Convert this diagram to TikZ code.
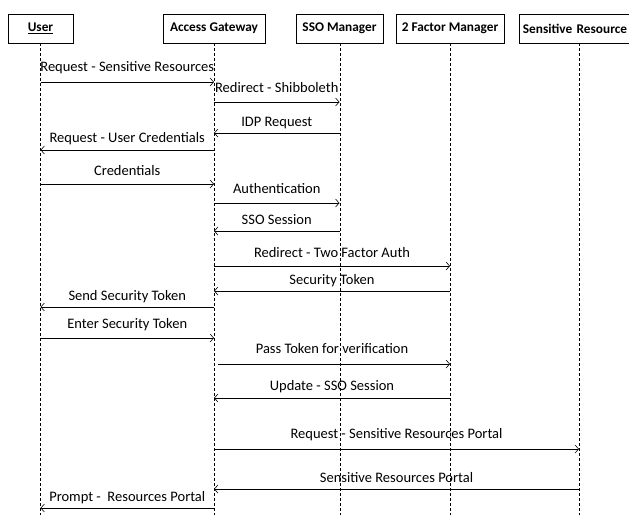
\documentclass[tikz,border=0pt]{standalone}
\usepackage{fontspec}
\setmainfont{Carlito}
\usetikzlibrary{arrows.meta,calc}

% one message: #1 sender, #2 receiver, #3 arrow height, #4 label height, #5 text
\newcommand\seqmsg[5]{%
  \draw[msg] (#1 |- 0,#3) -- (#2 |- 0,#3);
  \node[lbl] at ($(#1 |- 0,#4)!0.5!(#2 |- 0,#4)$) {#5};}

\begin{document}
\begin{tikzpicture}[x=1pt,y=-1pt,
  actor/.style={draw, line width=0.8pt, minimum height=29pt, inner sep=0pt,
    font=\bfseries\fontsize{13.3}{15}\selectfont},
  lifeline/.style={line width=0.6pt, dash pattern=on 3pt off 2pt},
  msg/.style={line width=0.6pt, -{Straight Barb[length=3.5pt,width=8pt]}},
  lbl/.style={inner sep=0pt, font=\fontsize{14.5}{16}\selectfont}]
  \useasboundingbox (0,0) rectangle (629,515);
  \clip (0,0) rectangle (629,515);

  % participants
  \node[actor, minimum width=65pt]  (user) at (40.5,28.5) {\underline{User}};
  \node[actor, minimum width=102pt] (ag)   at (214,28.5)  {Access Gateway};
  \node[actor, minimum width=87pt]  (sso)  at (339.5,28.5) {SSO Manager};
  \node[actor, minimum width=108pt] (tfm)  at (450,28.5)  {2 Factor Manager};
  \node[actor, anchor=west, minimum width=125pt, text width=125pt, align=left]
    (sr) at (519,28.5) {\hspace*{3.5pt}Sensitive Resource};
  \coordinate (srx) at (579,28.5);

  % lifelines
  \foreach \p/\x in {user/40.5, ag/214, sso/340, tfm/450, sr/579}{
    \coordinate (\p-end) at (\x,515);
    \draw[lifeline] (\p-end |- \p.south) -- (\p-end);
  }

  % messages
  \seqmsg{user}{ag}{82}{68}{Request - Sensitive Resources}
  \seqmsg{ag}{sso}{102}{88}{Redirect - Shibboleth}
  \seqmsg{sso}{ag}{133}{123}{IDP Request}
  \seqmsg{ag}{user}{150}{139}{Request - User Credentials}
  \seqmsg{user}{ag}{184}{171}{Credentials}
  \seqmsg{ag}{sso}{203}{189}{Authentication}
  \seqmsg{sso}{ag}{231}{220}{SSO Session}
  \seqmsg{ag}{tfm}{266}{253}{Redirect - Two Factor Auth}
  \seqmsg{tfm}{ag}{291}{281}{Security Token}
  \seqmsg{ag}{user}{307}{297}{Send Security Token}
  \seqmsg{user}{ag}{338}{325}{Enter Security Token}
  \draw[msg] ([xshift=4pt]ag |- 0,364) -- (tfm |- 0,364);
  \node[lbl] at ($(ag |- 0,349)!0.5!(tfm |- 0,349)$) {Pass Token for verification};
  \seqmsg{tfm}{ag}{398}{387}{Update - SSO Session}
  \seqmsg{ag}{srx}{449}{435}{Request - Sensitive Resources Portal}
  \seqmsg{srx}{ag}{489}{478}{Sensitive Resources Portal}
  \seqmsg{ag}{user}{508}{498}{Prompt -\ \ Resources Portal}
\end{tikzpicture}
\end{document}
